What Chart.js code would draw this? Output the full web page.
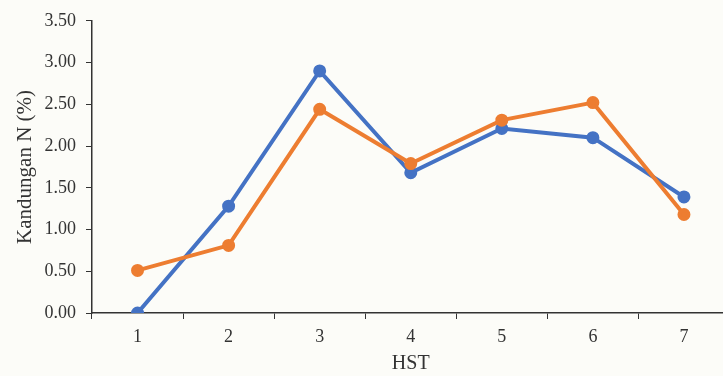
<!DOCTYPE html>
<html>
<head>
<meta charset="utf-8">
<script src="https://cdn.jsdelivr.net/npm/chart.js@4"></script>
<style>
    html, body { margin: 0; padding: 0; background: #fcfcf8; overflow: hidden; }
    #wrap { width: 738px; height: 376px; }
</style>
</head>
<body>
<div id="wrap"><canvas id="chart"></canvas></div>
<script>
const hst = ['1', '2', '3', '4', '5', '6', '7'];
const seriesBlue = [0.00, 1.28, 2.90, 1.68, 2.21, 2.10, 1.39];
const seriesOrange = [0.51, 0.81, 2.44, 1.79, 2.31, 2.52, 1.18];

const textColor = '#333333';
const serif = "'Liberation Serif', 'Times New Roman', serif";

new Chart(document.getElementById('chart').getContext('2d'), {
    type: 'line',
    data: {
        labels: hst,
        datasets: [{
            label: 'A',
            data: seriesBlue,
            borderColor: '#4472C4',
            backgroundColor: '#4472C4',
            borderWidth: 4,
            pointRadius: 4.5,
            tension: 0,
            order: 2
        }, {
            label: 'B',
            data: seriesOrange,
            borderColor: '#ED7D31',
            backgroundColor: '#ED7D31',
            borderWidth: 4,
            pointRadius: 4.5,
            tension: 0,
            order: 1
        }]
    },
    options: {
        responsive: true,
        maintainAspectRatio: false,
        animation: false,
        layout: { padding: { top: 20, right: 6, bottom: 0, left: 2 } },
        plugins: {
            legend: { display: false },
            tooltip: { enabled: false }
        },
        scales: {
            x: {
                offset: true,
                grid: { offset: true, drawOnChartArea: false, tickLength: 6, color: '#333' },
                border: { color: '#333', width: 1.5 },
                ticks: { color: textColor, font: { family: serif, size: 18 }, padding: 7 },
                title: { display: true, text: 'HST', color: textColor, font: { family: serif, size: 20 }, padding: { top: 2, bottom: 0 } },
                afterFit: s => { s.height = 63; }
            },
            y: {
                min: 0,
                max: 3.5,
                ticks: { stepSize: 0.5, color: textColor, font: { family: serif, size: 18 }, padding: 10, callback: v => v.toFixed(2) },
                grid: { drawOnChartArea: false, tickLength: 6, color: '#333' },
                border: { color: '#333', width: 1.5 },
                title: { display: true, text: 'Kandungan N (%)', color: textColor, font: { family: serif, size: 21 }, padding: { top: 11, bottom: 0 } },
                afterFit: s => { s.width = 90; }
            }
        }
    }
});
</script>
</body>
</html>
